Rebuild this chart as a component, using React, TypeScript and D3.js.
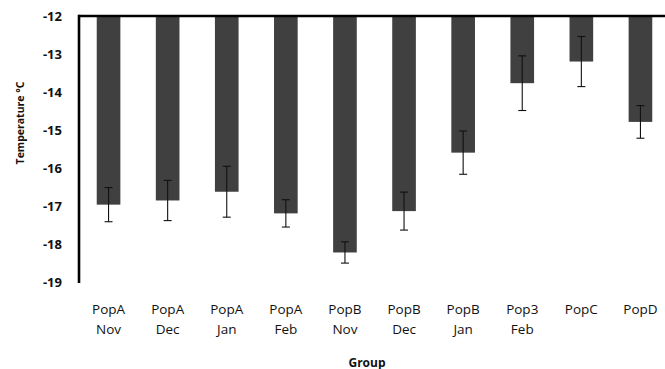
import React from "react";
import * as d3 from "d3";

// Group labels (two lines each) and mean temperatures with error half-widths
const groupLine1 = ["PopA", "PopA", "PopA", "PopA", "PopB", "PopB", "PopB", "Pop3", "PopC", "PopD"];
const groupLine2 = ["Nov", "Dec", "Jan", "Feb", "Nov", "Dec", "Jan", "Feb", "", ""];
const meanTemp = [-16.97, -16.86, -16.63, -17.2, -18.23, -17.14, -15.6, -13.77, -13.2, -14.79];
const errTemp = [0.45, 0.53, 0.67, 0.36, 0.28, 0.5, 0.57, 0.72, 0.66, 0.43];
const yTicks = [-12, -13, -14, -15, -16, -17, -18, -19];

const W = 665;
const H = 369;
const font = "'Open Sans', 'Liberation Sans', sans-serif";

export default function App() {
  const ids = groupLine1.map((_, i) => String(i));
  const x = d3
    .scaleBand<string>()
    .domain(ids)
    .range([79, 670])
    .paddingInner(0.6)
    .paddingOuter(0.3);
  const y = d3.scaleLinear().domain([-12, -19]).range([16, 281.7]);
  const bw = x.bandwidth();
  const cap = 4;

  return (
    <svg
      width={W}
      height={H}
      style={{ position: "absolute", left: 0, top: 0, background: "#fff" }}
    >
      {meanTemp.map((v, i) => {
        const x0 = x(ids[i])!;
        const cx = x0 + bw / 2;
        const yTop = y(v + errTemp[i]);
        const yBot = y(v - errTemp[i]);
        return (
          <g key={i}>
            <rect x={x0} y={y(-12)} width={bw} height={y(v) - y(-12)} fill="#404040" />
            <g stroke="#111" strokeWidth={1.1}>
              <line x1={cx} x2={cx} y1={yTop} y2={yBot} />
              <line x1={cx - cap} x2={cx + cap} y1={yTop} y2={yTop} />
              <line x1={cx - cap} x2={cx + cap} y1={yBot} y2={yBot} />
            </g>
          </g>
        );
      })}

      {/* axes */}
      <line x1={79} x2={W} y1={16} y2={16} stroke="#000" strokeWidth={2.6} />
      <line x1={79} x2={79} y1={14.7} y2={283} stroke="#000" strokeWidth={2.6} />

      {yTicks.map((t) => (
        <text
          key={t}
          x={62}
          y={y(t)}
          textAnchor="end"
          dominantBaseline="central"
          fontFamily={font}
          fontWeight={700}
          fontSize={13}
          fill="#111"
        >
          {t}
        </text>
      ))}

      {ids.map((id, i) => {
        const cx = x(id)! + bw / 2;
        return (
          <text
            key={id}
            x={cx}
            textAnchor="middle"
            fontFamily={font}
            fontSize={13.5}
            fill="#111"
          >
            <tspan x={cx} y={314}>{groupLine1[i]}</tspan>
            {groupLine2[i] && <tspan x={cx} y={334}>{groupLine2[i]}</tspan>}
          </text>
        );
      })}

      <text
        x={367}
        y={362}
        textAnchor="middle"
        dominantBaseline="central"
        fontFamily={font}
        fontWeight={700}
        fontSize={12}
        fill="#111"
      >
        Group
      </text>
      <text
        transform="translate(20,123) rotate(-90)"
        textAnchor="middle"
        dominantBaseline="central"
        fontFamily={font}
        fontWeight={700}
        fontSize={10.5}
        fill="#111"
      >
        Temperature °C
      </text>
    </svg>
  );
}
